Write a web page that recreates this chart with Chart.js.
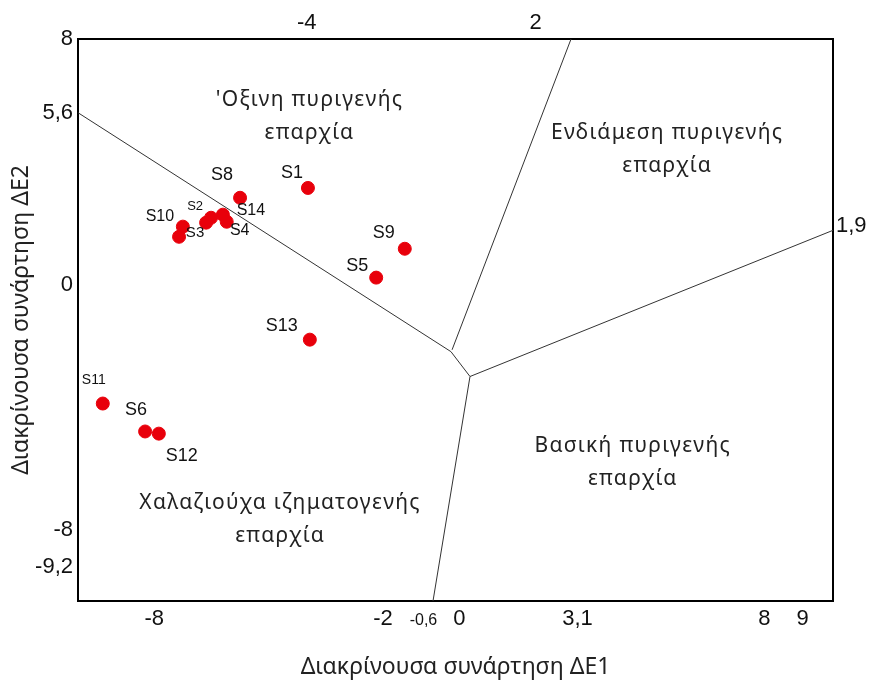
<!DOCTYPE html>
<html>
<head>
<meta charset="utf-8">
<script src="https://cdn.jsdelivr.net/npm/chart.js@4"></script>
<style>
  html, body { margin: 0; padding: 0; background: #fff; }
  #wrap { width: 873px; height: 684px; }
</style>
</head>
<body>
<div id="wrap"><canvas id="chart"></canvas></div>
<script>
// δείγματα (ΔΕ1, ΔΕ2)
const sampleNames = ['S1', 'S8', 'S14', 'S4', 'S2', '', 'S10', 'S3', 'S9', 'S5', 'S13', 'S11', 'S6', 'S12'];
const de1 = [-3.97, -5.75, -6.20, -6.10, -6.51, -6.64, -7.25, -7.35, -1.43, -2.18, -3.92, -9.35, -8.24, -7.88];
const de2 = [3.15, 2.83, 2.28, 2.05, 2.18, 2.02, 1.89, 1.56, 1.17, 0.23, -1.79, -3.87, -4.78, -4.85];

// όρια πεδίων
const boundaryLeft = [[-10, 5.6], [-0.22, -2.18]];
const boundaryTop = [[2.93, 8], [-0.19, -2.12]];
const boundaryMid = [[-0.22, -2.18], [0.28, -2.99]];
const boundaryRight = [[0.28, -2.99], [9.8, 1.77]];
const boundaryBottom = [[0.28, -2.99], [-0.69, -10.3]];

// ετικέτες αξόνων
const bottomTicks = [-8, -2, -0.6, 0, 3.1, 8, 9];
const topTicks = [-4, 2];
const leftTicks = [8, 5.6, 0, -8, -9.2];
const rightTicks = [1.9];

const regionNames = [
  ["'Οξινη πυριγενής", 'επαρχία'],
  ['Ενδιάμεση πυριγενής', 'επαρχία'],
  ['Βασική πυριγενής', 'επαρχία'],
  ['Χαλαζιούχα ιζηματογενής', 'επαρχία']
];

// θέσεις κειμένων (όχι δεδομένα)
const regionAt = [[-3.93, 6.02], [5.45, 4.94], [4.55, -5.24], [-4.70, -7.12]];
const labelStyle = {
  'S1': [-16, -15, 18], 'S8': [-18, -23, 18], 'S14': [28, -4, 16], 'S4': [13, 9, 16],
  'S2': [-16, -11, 13], 'S10': [-23, -10, 16], 'S3': [16, -4, 15], 'S9': [-21, -16, 18],
  'S5': [-19, -12, 18], 'S13': [-28, -14, 18], 'S11': [-9, -23, 14], 'S6': [-9, -21, 18],
  'S12': [23, 22, 18]
};

const toXY = arr => arr.map(p => ({ x: p[0], y: p[1] }));
const points = de1.map((x, i) => ({ x: x, y: de2[i], name: sampleNames[i] }));

function lineSet(arr) {
  return {
    type: 'line', data: toXY(arr), borderColor: '#333', borderWidth: 1,
    pointRadius: 0, fill: false, tension: 0
  };
}

const fmt = v => String(v).replace('.', ',');

const textPlugin = {
  id: 'texts',
  afterDatasetsDraw(chart) {
    const ctx = chart.ctx;
    const xs = chart.scales.x, ys = chart.scales.y;
    ctx.save();
    // ονόματα πεδίων
    ctx.fillStyle = '#222';
    ctx.font = '21px "Noto Sans"';
    ctx.letterSpacing = '1.3px';
    ctx.textAlign = 'center';
    ctx.textBaseline = 'middle';
    regionNames.forEach((lines, i) => {
      const px = xs.getPixelForValue(regionAt[i][0]);
      const py = ys.getPixelForValue(regionAt[i][1]);
      lines.forEach((t, j) => ctx.fillText(t, px, py + j * 33));
    });
    ctx.letterSpacing = '0px';
    // ονόματα δειγμάτων
    ctx.fillStyle = '#111';
    const meta = chart.getDatasetMeta(0);
    meta.data.forEach((el, i) => {
      const name = points[i].name;
      if (!name) return;
      const s = labelStyle[name];
      ctx.font = s[2] + 'px "Liberation Sans"';
      ctx.fillText(name, el.x + s[0], el.y + s[1]);
    });
    // μικρή ετικέτα -0,6
    ctx.font = '16px "Liberation Sans"';
    ctx.textBaseline = 'alphabetic';
    ctx.fillText(fmt(-0.6), xs.getPixelForValue(-0.6) - 13, xs.bottom - 83 + 24 + 601 - xs.top);
    ctx.restore();
  }
};

function fixedTicks(values) {
  return function (scale) { scale.ticks = values.map(v => ({ value: v })); };
}

const border = { display: true, color: '#000', width: 2 };
const grid = { drawOnChartArea: false, drawTicks: false };
const tickFont = { family: '"Liberation Sans"', size: 22 };

new Chart(document.getElementById('chart'), {
  type: 'scatter',
  data: {
    datasets: [
      {
        data: points, backgroundColor: '#e8000b', borderColor: '#e8000b',
        pointRadius: 6.5, pointHoverRadius: 6.5
      },
      lineSet(boundaryLeft), lineSet(boundaryTop), lineSet(boundaryMid),
      lineSet(boundaryRight), lineSet(boundaryBottom)
    ]
  },
  options: {
    responsive: true,
    maintainAspectRatio: false,
    animation: false,
    layout: { padding: 0 },
    plugins: { legend: { display: false }, tooltip: { enabled: false } },
    scales: {
      x: {
        type: 'linear', position: 'bottom', min: -10, max: 9.8,
        afterBuildTicks: fixedTicks(bottomTicks),
        afterFit(s) { s.height = 83; },
        grid: grid, border: border,
        ticks: { color: '#111', font: tickFont, padding: 5, maxRotation: 0, autoSkip: false,
          callback: v => (v === -0.6 ? '' : fmt(v)) },
        title: { display: true, text: 'Διακρίνουσα συνάρτηση ΔΕ1', color: '#222', font: { family: '"Noto Sans"', size: 23 }, padding: { top: 14, bottom: 3 } }
      },
      x2: {
        type: 'linear', position: 'top', min: -10, max: 9.8,
        afterBuildTicks: fixedTicks(topTicks),
        afterFit(s) { s.height = 39; },
        grid: grid, border: border,
        ticks: { color: '#111', font: tickFont, padding: 3, maxRotation: 0, autoSkip: false, callback: fmt }
      },
      y: {
        type: 'linear', position: 'left', min: -10.3, max: 8,
        afterBuildTicks: fixedTicks(leftTicks),
        afterFit(s) { s.width = 78; },
        grid: grid, border: border,
        ticks: { color: '#111', font: tickFont, padding: 5, autoSkip: false, callback: fmt },
        title: { display: true, text: 'Διακρίνουσα συνάρτηση ΔΕ2', color: '#222', font: { family: '"Noto Sans"', size: 23 }, padding: { top: 8, bottom: 4 } }
      },
      y2: {
        type: 'linear', position: 'right', min: -10.3, max: 8,
        afterBuildTicks: fixedTicks(rightTicks),
        afterFit(s) { s.width = 40; },
        grid: grid, border: border,
        ticks: { color: '#111', font: tickFont, padding: 3, autoSkip: false, callback: fmt }
      }
    }
  },
  plugins: [textPlugin]
});
</script>
</body>
</html>
